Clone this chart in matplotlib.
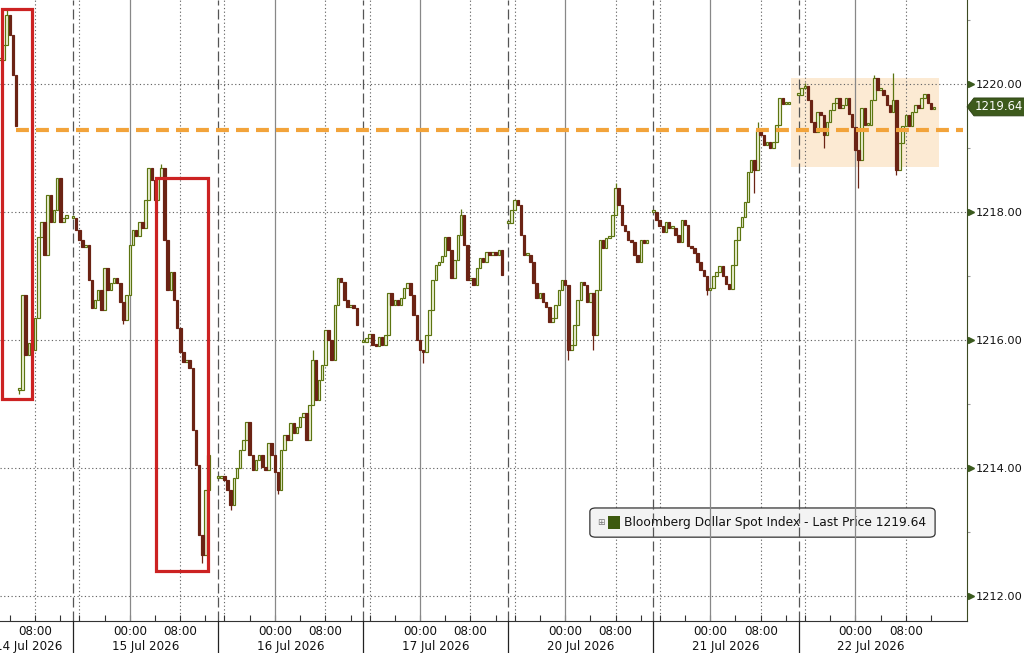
import numpy as np
import matplotlib
matplotlib.use("Agg")
import matplotlib.pyplot as plt
from matplotlib.patches import Rectangle, FancyBboxPatch, Polygon
from matplotlib.transforms import blended_transform_factory as blend

plt.rcParams['font.family'] = ['DejaVu Sans']

# ---------------- data (30-minute closes per trading session) ----------------
dates = ["14 Jul 2026", "15 Jul 2026", "16 Jul 2026", "17 Jul 2026",
         "20 Jul 2026", "21 Jul 2026", "22 Jul 2026"]

close_14a = [1220.37, 1220.61, 1221.08, 1220.77, 1220.14, 1219.34]
close_14b = [1215.22, 1216.70, 1215.77, 1215.95, 1215.84, 1216.34, 1217.61, 1217.84,
             1217.33, 1218.27, 1217.84, 1218.03, 1218.53, 1217.84, 1217.91, 1217.95]
close_15 = [1217.91, 1217.72, 1217.56, 1217.45, 1217.48, 1216.94, 1216.50, 1216.62,
            1216.78, 1216.47, 1217.12, 1216.78, 1216.89, 1216.97, 1216.89, 1216.59,
            1216.31, 1216.70, 1217.48, 1217.72, 1217.62, 1217.84, 1217.75, 1218.19,
            1218.69, 1218.50, 1218.19, 1218.53, 1218.69, 1217.56, 1216.78, 1217.06,
            1216.62, 1216.19, 1215.81, 1215.66, 1215.69, 1215.56, 1214.59, 1214.05,
            1212.95, 1212.64, 1213.66, 1214.20]
close_16 = [1213.84, 1213.88, 1213.81, 1213.66, 1213.42, 1213.84, 1214.00, 1214.28,
            1214.44, 1214.72, 1214.20, 1213.97, 1214.13, 1214.20, 1214.02, 1213.97,
            1214.39, 1214.20, 1213.94, 1213.66, 1214.28, 1214.52, 1214.44, 1214.70,
            1214.55, 1214.64, 1214.80, 1214.86, 1214.44, 1214.98, 1215.69, 1215.06,
            1215.38, 1215.61, 1216.16, 1216.00, 1215.69, 1216.55, 1216.97, 1216.91,
            1216.63, 1216.52, 1216.55, 1216.50, 1216.23]
close_17 = [1215.97, 1216.03, 1216.09, 1215.92, 1215.91, 1216.05, 1215.92, 1216.08,
            1216.73, 1216.55, 1216.63, 1216.55, 1216.66, 1216.81, 1216.89, 1216.70,
            1216.39, 1216.00, 1215.84, 1215.81, 1216.08, 1216.47, 1216.94, 1217.17,
            1217.22, 1217.31, 1217.61, 1217.41, 1216.97, 1217.25, 1217.64, 1217.95,
            1217.48, 1216.94, 1216.97, 1216.86, 1217.12, 1217.28, 1217.22, 1217.38,
            1217.33, 1217.38, 1217.33, 1217.41, 1217.02]
close_20 = [1217.83, 1218.03, 1218.19, 1218.11, 1217.64, 1217.33, 1217.33, 1217.22,
            1216.89, 1216.66, 1216.73, 1216.59, 1216.52, 1216.28, 1216.34, 1216.55,
            1216.78, 1216.94, 1216.86, 1215.84, 1215.92, 1216.23, 1216.63, 1216.91,
            1216.86, 1216.59, 1216.73, 1216.08, 1216.78, 1217.56, 1217.44, 1217.59,
            1217.62, 1217.95, 1218.38, 1218.11, 1217.80, 1217.70, 1217.56, 1217.53,
            1217.33, 1217.22, 1217.56, 1217.52, 1217.56]
close_21 = [1218.00, 1217.88, 1217.78, 1217.69, 1217.84, 1217.75, 1217.75, 1217.64,
            1217.53, 1217.88, 1217.80, 1217.47, 1217.44, 1217.36, 1217.22, 1217.09,
            1217.00, 1216.78, 1216.81, 1217.00, 1217.06, 1217.16, 1217.00, 1216.88,
            1216.80, 1217.17, 1217.56, 1217.77, 1217.92, 1218.16, 1218.62, 1218.81,
            1218.66, 1219.28, 1219.20, 1219.05, 1219.09, 1219.00, 1219.09, 1219.36,
            1219.78, 1219.69, 1219.69, 1219.72]
close_22 = [1219.83, 1219.94, 1219.97, 1219.75, 1219.41, 1219.25, 1219.56, 1219.52,
            1219.20, 1219.41, 1219.59, 1219.70, 1219.78, 1219.62, 1219.67, 1219.78,
            1219.53, 1219.33, 1218.97, 1218.81, 1219.63, 1219.36, 1219.36, 1219.75,
            1220.09, 1219.91, 1219.91, 1219.83, 1219.67, 1219.56, 1219.75, 1218.66,
            1219.08, 1219.34, 1219.52, 1219.34, 1219.56, 1219.67, 1219.62, 1219.78,
            1219.84, 1219.70, 1219.61, 1219.64]

# (session index, first 30-min slot of the session, closes)
segments = [(0, 23, close_14a), (0, 29, close_14b), (1, 0, close_15), (2, 0, close_16),
            (3, 0, close_17), (4, 0, close_20), (5, 0, close_21), (6, 0, close_22)]

# wick extremes beyond the bodies: (session, slot) -> price
wick_low = {(0, 29): 1215.15, (1, 41): 1212.52, (1, 16): 1216.25, (2, 4): 1213.35,
            (2, 19): 1213.60, (3, 19): 1215.64, (4, 19): 1215.69, (4, 27): 1215.84,
            (5, 17): 1216.70, (5, 32): 1218.30, (6, 8): 1219.00, (6, 19): 1218.38,
            (6, 31): 1218.58}
wick_high = {(0, 25): 1221.15, (1, 28): 1218.75, (2, 30): 1215.84, (3, 31): 1218.05,
             (4, 34): 1218.45, (5, 33): 1219.40, (6, 2): 1220.02, (6, 24): 1220.14,
             (6, 30): 1220.17}

last_price = 1219.64
ref_level = 1219.28
legend_label = "Bloomberg Dollar Spot Index - Last Price 1219.64"

SESSION_H = 23.0      # trading hours per session
BAR_H = 0.5           # 30-minute bars

# ---------------- figure ----------------
fig = plt.figure(figsize=(10.24, 6.53), dpi=100)
fig.patch.set_facecolor('white')
ax = fig.add_axes([0.0, 32 / 653, 967 / 1024, 621 / 653])
ax.set_facecolor('white')
XL = (-11.57, 141.70)
YL = (1211.61, 1221.31)
ax.set_xlim(*XL)
ax.set_ylim(*YL)

for sp in ['top', 'left']:
    ax.spines[sp].set_visible(False)
ax.spines['bottom'].set_color('#333333')
ax.spines['right'].set_color('#3c4a22')

def sess_start(s):
    return SESSION_H * (s - 1)

# vertical grid
for s in range(len(dates)):
    H = sess_start(s)
    if s >= 1:
        ax.axvline(H, color='#555555', lw=0.9, ls=(0, (8, 3.2)), zorder=2.5)
        ax.axvline(H + 1, color='#666666', lw=0.8, ls=(0, (1.1, 2.2)), zorder=1)
    if XL[0] < H + 9 < XL[1]:
        ax.axvline(H + 9, color='#888888', lw=0.9, zorder=2.5)
    if XL[0] < H + 17 < XL[1]:
        ax.axvline(H + 17, color='#666666', lw=0.8, ls=(0, (1.1, 2.2)), zorder=1)

# horizontal grid
yt = [1212, 1214, 1216, 1218, 1220]
for y in yt:
    ax.axhline(y, color='#666666', lw=0.8, ls=(0, (1.1, 2.2)), zorder=1)

# consolidation zone
ax.add_patch(Rectangle((113.8, 1218.70), 137.3 - 113.8, 1220.09 - 1218.70,
                       facecolor='#fbd9b0', alpha=0.55, edgecolor='none', zorder=0.8))

# candles
up_c = '#5c7410'
dn_c = '#6b2314'
for s, first, closes in segments:
    c = np.array(closes, dtype=float)
    o = np.concatenate([[c[0]], c[:-1]])
    slots = first + np.arange(len(c))
    x = sess_start(s) + BAR_H * slots
    lo = np.minimum(o, c)
    hi = np.maximum(o, c)
    ht = np.maximum(hi - lo, 0.03)
    up = c >= o
    ax.bar(x[up], ht[up], bottom=lo[up], width=0.40, facecolor='#eef3d8',
           edgecolor=up_c, linewidth=0.85, zorder=3)
    ax.bar(x[~up], ht[~up], bottom=lo[~up], width=0.40, facecolor=dn_c,
           edgecolor=dn_c, linewidth=0.85, zorder=3)
    for k, sl in enumerate(slots):
        wl = wick_low.get((s, sl), lo[k])
        wh = wick_high.get((s, sl), hi[k])
        if wl < lo[k] or wh > hi[k]:
            ax.vlines(x[k], wl, wh, color=up_c if up[k] else dn_c, lw=0.9, zorder=2.9)

# reference line
ax.plot([-9.03, 141.07], [ref_level, ref_level], color='#f2a33a', lw=3.0,
        dashes=(3.1, 1.7), solid_capstyle='butt', zorder=4)

# red boxes
for (x0, x1, y0, y1) in [(-11.33, -6.42, 1215.07, 1221.164),
                         (13.23, 21.32, 1212.39, 1218.53)]:
    ax.add_patch(Rectangle((x0, y0), x1 - x0, y1 - y0, fill=False,
                           edgecolor='#cc2222', lw=2.3, zorder=5))

# ---------------- x axis ----------------
minor = []
for s in range(len(dates)):
    H = sess_start(s)
    for off in (1, 5, 9, 13, 17, 21):
        if XL[0] < H + off < XL[1]:
            minor.append(H + off)
ax.set_xticks(minor)
ax.set_xticklabels([])
ax.tick_params(axis='x', direction='in', length=4, width=0.8, color='#333333')

bt = blend(ax.transData, ax.transAxes)
for s in range(len(dates)):
    H = sess_start(s)
    for off, lab in ((9, "00:00"), (17, "08:00")):
        if XL[0] < H + off < XL[1]:
            ax.text(H + off, -0.0175, lab, transform=bt, ha='center', va='center',
                    fontsize=8.6, color='#111111', clip_on=False)
    if s == 0:
        xc = H + SESSION_H - 7.1
    else:
        xc = H + SESSION_H / 2
    ax.text(xc, -0.0415, dates[s], transform=bt, ha='center', va='center',
            fontsize=8.6, color='#111111', clip_on=False)
    if s >= 1:
        ax.plot([H, H], [0, -0.06], transform=bt, color='#222222', lw=0.9,
                clip_on=False, zorder=6)

# ---------------- y axis ----------------
ax.yaxis.tick_right()
ax.set_yticks(yt)
ax.set_yticklabels([f"{v:.2f}" for v in yt])
ax.set_yticks([1213, 1215, 1217, 1219, 1221], minor=True)
ax.tick_params(axis='y', which='major', length=0, pad=6.5, labelsize=8.2, labelcolor='#111111')
ax.tick_params(axis='y', which='minor', length=2, width=0.8, color='#999999', direction='out')

ty = blend(ax.transAxes, ax.transData)
ax.plot([1.0045] * len(yt), yt, ls='none', marker='>', ms=4.5, color='#3b5a1e',
        transform=ty, clip_on=False, zorder=6)

# last price tag
p = last_price
hh = 0.14
tag = Polygon([(1.0, p), (1.0072, p + hh), (1.06, p + hh), (1.06, p - hh), (1.0072, p - hh)],
              closed=True, transform=ty, facecolor='#3d5a1c', edgecolor='#2a3f12',
              lw=0.6, clip_on=False, zorder=7)
ax.add_patch(tag)
ax.text(1.0325, p, f"{p:.2f}", transform=ty, ha='center', va='center', fontsize=8.4,
        color='white', clip_on=False, zorder=8)

# ---------------- legend ----------------
ax.add_patch(FancyBboxPatch((0.610, 0.135), 0.357, 0.047,
                            boxstyle="round,pad=0,rounding_size=0.006",
                            transform=ax.transAxes, facecolor='#f3f3f3',
                            edgecolor='#333333', lw=0.9, zorder=2))
ax.text(0.6215, 0.1586, "\u229e", transform=ax.transAxes, ha='center', va='center',
        fontsize=6.5, color='#777777', zorder=2.1)
ax.add_patch(Rectangle((0.6287, 0.148), 0.0125, 0.021, transform=ax.transAxes,
                       facecolor='#3d5a0f', edgecolor='none', zorder=2.1))
ax.text(0.6453, 0.1586, legend_label, transform=ax.transAxes, ha='left', va='center',
        fontsize=8.85, color='#111111', zorder=2.1)

fig.savefig("out.png", dpi=100, facecolor='white')
